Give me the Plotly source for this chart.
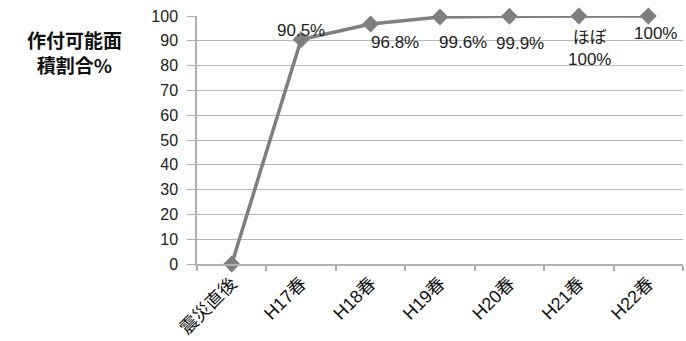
import plotly.graph_objects as go

categories = ["震災直後", "H17春", "H18春", "H19春", "H20春", "H21春", "H22春"]
values = [0, 90.5, 96.8, 99.6, 99.9, 100, 100]
label_texts = [None, "90.5%", "96.8%", "99.6%", "99.9%", "ほぼ<br>100%", "100%"]
label_dx = [0, 0, 24, 23, 11, 11, 7]
label_dy = [0, 9, -19, -26, -27, -32, -17]
y_ticks = list(range(0, 101, 10))
y_title = "作付可能面<br>積割合%"

FONT = "Liberation Sans, Noto Sans CJK JP, sans-serif"

fig = go.Figure()
fig.add_trace(go.Scatter(
    x=categories, y=values, mode="lines+markers",
    line=dict(color="#7f7f7f", width=3.5),
    marker=dict(symbol="diamond", size=13, color="#7f7f7f"),
    cliponaxis=False, showlegend=False,
))

for c, v, t, dx, dy in zip(categories, values, label_texts, label_dx, label_dy):
    if t is None:
        continue
    fig.add_annotation(x=c, y=v, text=t, showarrow=False, xshift=dx, yshift=dy,
                       font=dict(family=FONT, size=17, color="#222222"))

fig.add_annotation(xref="paper", yref="paper", x=(74 - 197) / 486,
                   y=1 - (52 - 16) / 250, text=y_title, align="center",
                   showarrow=False, xanchor="center", yanchor="middle",
                   font=dict(family="Noto Sans CJK JP", size=19, color="#111111",
                             weight="bold"))

fig.update_layout(
    width=686, height=341,
    margin=dict(l=197, r=3, t=16, b=75),
    paper_bgcolor="white", plot_bgcolor="white",
    font=dict(family=FONT, size=15, color="#222222"),
)
fig.update_xaxes(
    type="category", range=[-0.5, 6.5], tickson="boundaries",
    ticks="outside", ticklen=5, tickcolor="#b0b0b0", tickwidth=1.5,
    showgrid=False, showline=True, linecolor="#b0b0b0", linewidth=1.5,
    tickangle=-45, tickfont=dict(family=FONT, size=18, color="#111111"),
)
fig.update_yaxes(
    range=[0, 100], tickvals=y_ticks, ticks="outside", ticklen=8,
    tickcolor="#b0b0b0", showgrid=True, gridcolor="#b8b8b8", gridwidth=1.2,
    showline=True, linecolor="#b0b0b0", linewidth=1.5, zeroline=False,
    ticklabelstandoff=6,
    tickfont=dict(family=FONT, size=16, color="#222222"),
)

fig.write_html("out.html")
